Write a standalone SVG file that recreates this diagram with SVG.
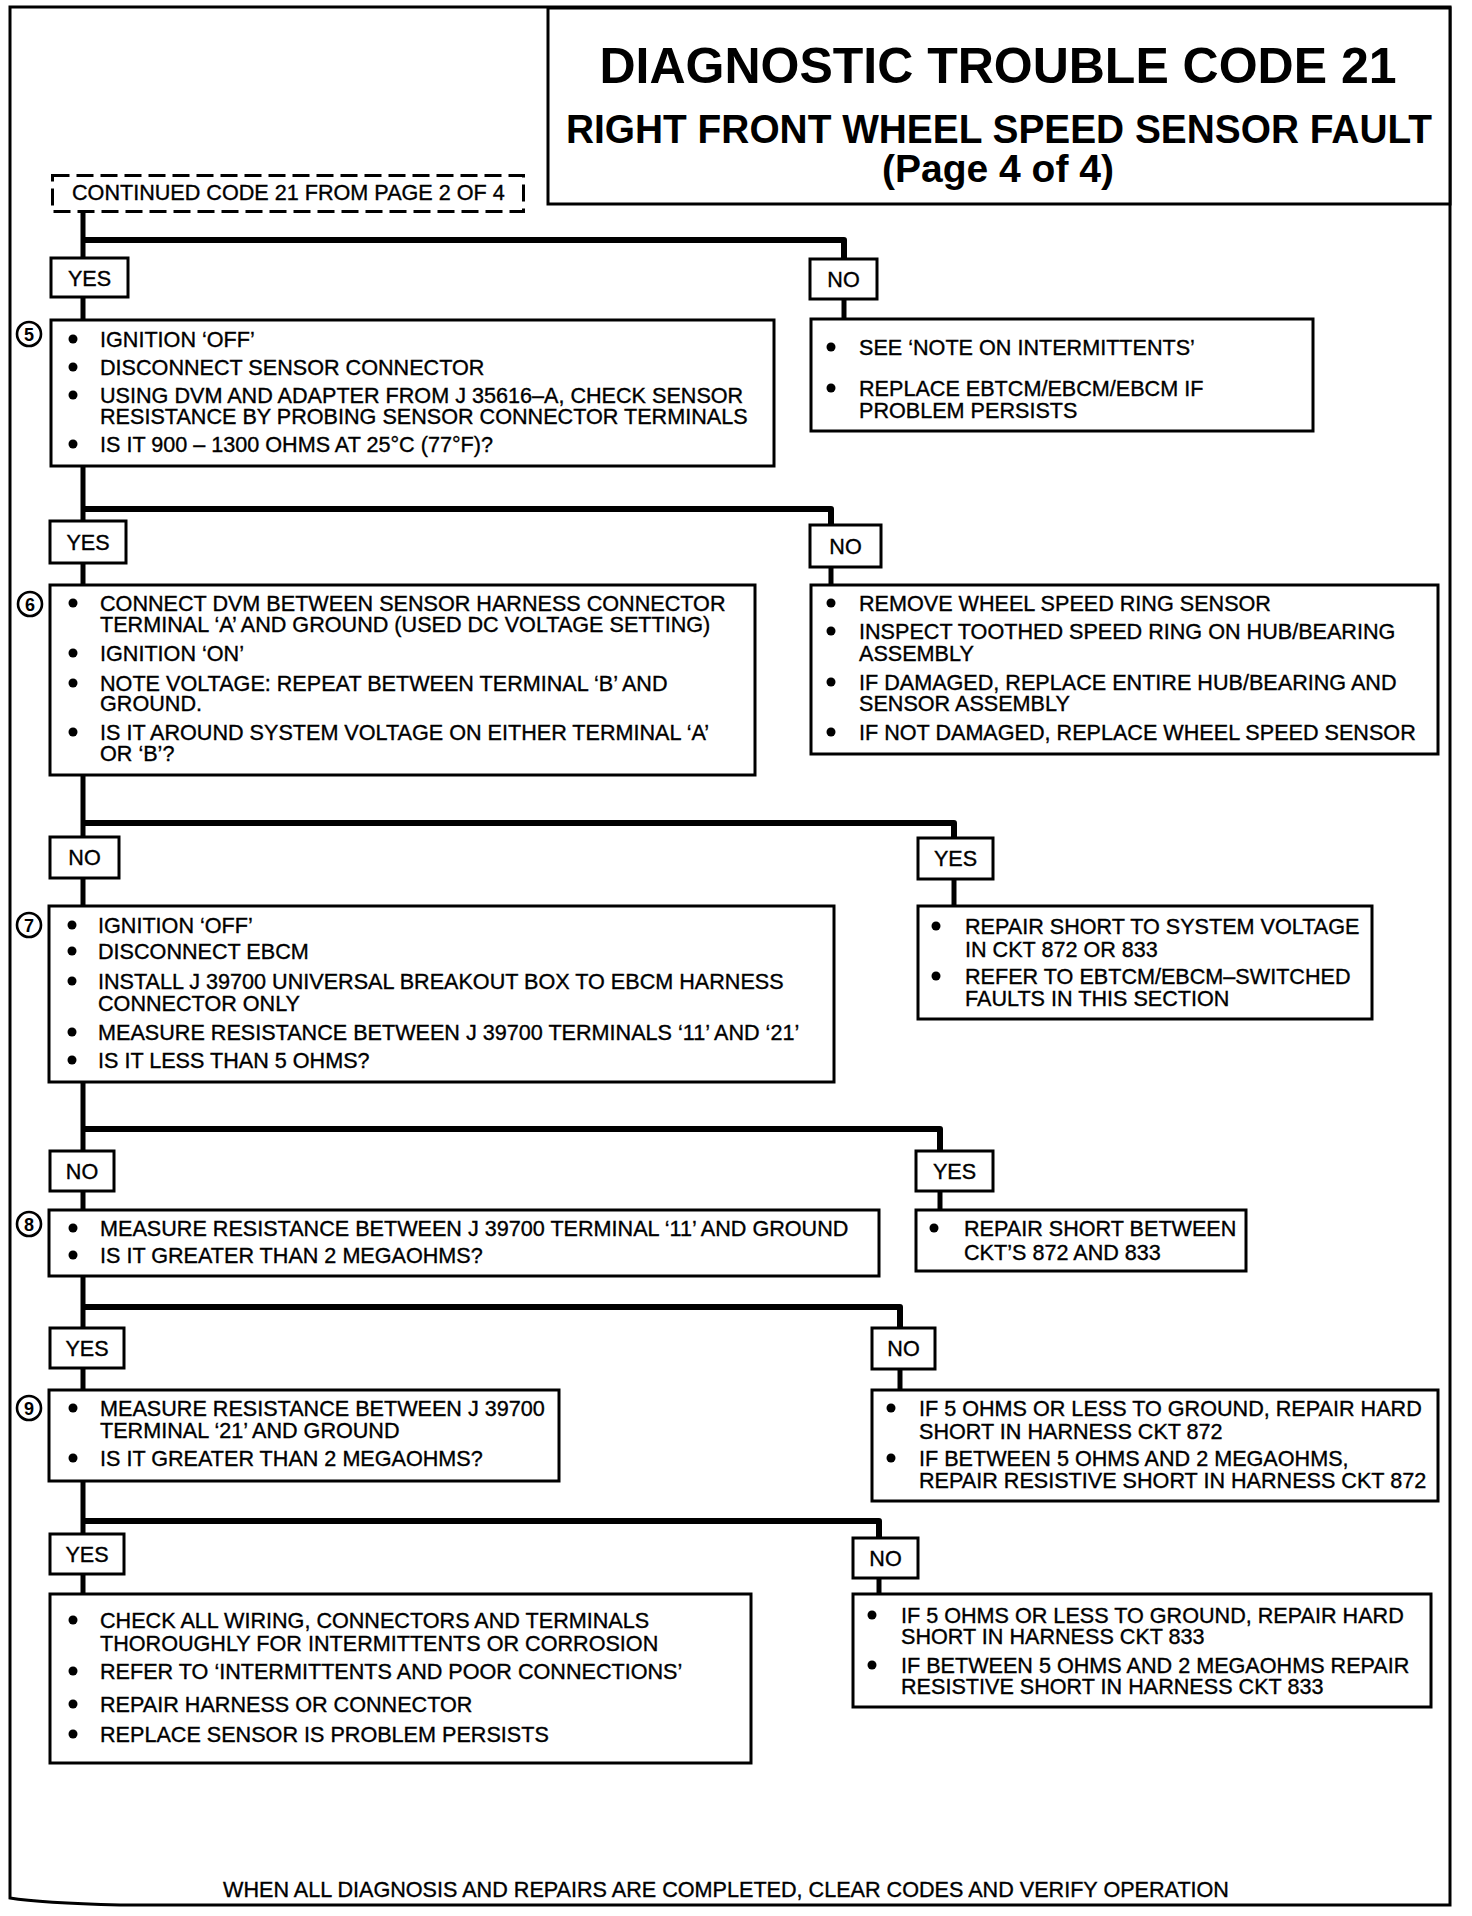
<svg xmlns="http://www.w3.org/2000/svg" width="1472" height="1916" viewBox="0 0 1472 1916">
<style>
.b{fill:#fff;stroke:#000;stroke-width:3}
.d{fill:#fff;stroke:#000;stroke-width:3;stroke-dasharray:17 7}
.t{font-family:"Liberation Sans",Arial,sans-serif;font-size:21.6px;fill:#000;stroke:#000;stroke-width:0.35}
.m{text-anchor:middle}
.h{font-family:"Liberation Sans",Arial,sans-serif;font-weight:bold;fill:#000;text-anchor:middle}
.n{font-family:"Liberation Sans",Arial,sans-serif;font-size:18px;font-weight:bold;fill:#000;text-anchor:middle}
.k{fill:#fff;stroke:#000;stroke-width:2.6}
.c{fill:none;stroke:#000;stroke-width:5}
.r{fill:none;stroke:#000;stroke-width:6;stroke-linejoin:round}
</style>
<defs>
<circle id="dot" r="4.5" fill="#000"/>
</defs>
<rect width="1472" height="1916" fill="#fff"/>
<path d="M10 7 H1450 V1905 H120 Q40 1903 10 1898 Z" fill="none" stroke="#000" stroke-width="3"/>

<g id="title">
<rect class="b" x="548" y="8" width="902" height="196"/>
<text class="h" x="998" y="83" font-size="50" textLength="797" lengthAdjust="spacingAndGlyphs">DIAGNOSTIC TROUBLE CODE 21</text>
<text class="h" x="999" y="143" font-size="40" textLength="866" lengthAdjust="spacingAndGlyphs">RIGHT FRONT WHEEL SPEED SENSOR FAULT</text>
<text class="h" x="998" y="182" font-size="39">(Page 4 of 4)</text>
</g>

<g id="connectors">
<path class="c" d="M83 211 V258 M83 297 V320 M83 466 V521 M83 563 V585 M83 775 V837 M83 878 V906 M83 1082 V1151 M83 1191 V1210 M83 1276 V1328 M83 1368 V1390 M83 1481 V1534 M83 1574 V1594"/>
<path class="r" d="M83 240 H844 V259"/>
<path class="c" d="M844 299 V319"/>
<path class="r" d="M83 509 H831 V525"/>
<path class="c" d="M831 567 V585"/>
<path class="r" d="M83 823 H954 V838"/>
<path class="c" d="M954 879 V906"/>
<path class="r" d="M83 1129 H940 V1151"/>
<path class="c" d="M940 1191 V1210"/>
<path class="r" d="M83 1307 H900 V1328"/>
<path class="c" d="M900 1369 V1390"/>
<path class="r" d="M83 1521 H879 V1538"/>
<path class="c" d="M879 1578 V1594"/>
</g>

<g id="start">
<rect class="d" x="52.5" y="175.5" width="471" height="36"/>
<text class="t" x="72" y="200">CONTINUED CODE 21 FROM PAGE 2 OF 4</text>
</g>

<g id="yes1"><rect class="b" x="51" y="258" width="77" height="39"/><text class="t m" x="89.5" y="286">YES</text></g>
<g id="no1"><rect class="b" x="810" y="259" width="67" height="40"/><text class="t m" x="843.5" y="287">NO</text></g>

<g id="step5">
<rect class="b" x="51" y="320" width="723" height="146"/>
<circle class="k" cx="29" cy="334" r="12"/><text class="n" x="29" y="340.5">5</text>
<use href="#dot" x="73" y="339"/><text class="t" x="100" y="347">IGNITION ‘OFF’</text>
<use href="#dot" x="73" y="367"/><text class="t" x="100" y="375">DISCONNECT SENSOR CONNECTOR</text>
<use href="#dot" x="73" y="395"/><text class="t" x="100" y="403">USING DVM AND ADAPTER FROM J  35616–A, CHECK SENSOR</text>
<text class="t" x="100" y="424">RESISTANCE BY PROBING SENSOR CONNECTOR TERMINALS</text>
<use href="#dot" x="73" y="444"/><text class="t" x="100" y="452">IS IT 900 – 1300 OHMS AT 25°C (77°F)?</text>
</g>

<g id="no1box">
<rect class="b" x="811" y="319" width="502" height="112"/>
<use href="#dot" x="831" y="347"/><text class="t" x="859" y="355">SEE ‘NOTE ON INTERMITTENTS’</text>
<use href="#dot" x="831" y="388"/><text class="t" x="859" y="396">REPLACE EBTCM/EBCM/EBCM IF</text>
<text class="t" x="859" y="418">PROBLEM PERSISTS</text>
</g>

<g id="yes2"><rect class="b" x="50" y="521" width="76" height="42"/><text class="t m" x="88" y="550">YES</text></g>
<g id="no2"><rect class="b" x="810" y="525" width="71" height="42"/><text class="t m" x="845.5" y="554">NO</text></g>

<g id="step6">
<rect class="b" x="50" y="585" width="705" height="190"/>
<circle class="k" cx="30" cy="604" r="12"/><text class="n" x="30" y="610.5">6</text>
<use href="#dot" x="73" y="603"/><text class="t" x="100" y="611">CONNECT DVM BETWEEN SENSOR HARNESS CONNECTOR</text>
<text class="t" x="100" y="632">TERMINAL ‘A’ AND GROUND (USED DC VOLTAGE SETTING)</text>
<use href="#dot" x="73" y="653"/><text class="t" x="100" y="661">IGNITION ‘ON’</text>
<use href="#dot" x="73" y="683"/><text class="t" x="100" y="691">NOTE VOLTAGE: REPEAT BETWEEN TERMINAL ‘B’ AND</text>
<text class="t" x="100" y="711">GROUND.</text>
<use href="#dot" x="73" y="732"/><text class="t" x="100" y="740">IS IT AROUND SYSTEM VOLTAGE ON EITHER TERMINAL ‘A’</text>
<text class="t" x="100" y="761">OR ‘B’?</text>
</g>

<g id="no2box">
<rect class="b" x="811" y="585" width="627" height="169"/>
<use href="#dot" x="831" y="603"/><text class="t" x="859" y="611">REMOVE WHEEL SPEED RING SENSOR</text>
<use href="#dot" x="831" y="631"/><text class="t" x="859" y="639">INSPECT TOOTHED SPEED RING ON HUB/BEARING</text>
<text class="t" x="859" y="661">ASSEMBLY</text>
<use href="#dot" x="831" y="682"/><text class="t" x="859" y="690">IF DAMAGED, REPLACE ENTIRE HUB/BEARING AND</text>
<text class="t" x="859" y="711">SENSOR ASSEMBLY</text>
<use href="#dot" x="831" y="732"/><text class="t" x="859" y="740">IF NOT DAMAGED, REPLACE WHEEL SPEED SENSOR</text>
</g>

<g id="no3"><rect class="b" x="50" y="837" width="69" height="41"/><text class="t m" x="84.5" y="865">NO</text></g>
<g id="yes3"><rect class="b" x="918" y="838" width="75" height="41"/><text class="t m" x="955.5" y="866">YES</text></g>

<g id="step7">
<rect class="b" x="49" y="906" width="785" height="176"/>
<circle class="k" cx="29" cy="925" r="12"/><text class="n" x="29" y="931.5">7</text>
<use href="#dot" x="72" y="925"/><text class="t" x="98" y="933">IGNITION ‘OFF’</text>
<use href="#dot" x="72" y="951"/><text class="t" x="98" y="959">DISCONNECT EBCM</text>
<use href="#dot" x="72" y="981"/><text class="t" x="98" y="989">INSTALL J 39700 UNIVERSAL BREAKOUT BOX TO EBCM HARNESS</text>
<text class="t" x="98" y="1011">CONNECTOR ONLY</text>
<use href="#dot" x="72" y="1032"/><text class="t" x="98" y="1040">MEASURE RESISTANCE BETWEEN J 39700 TERMINALS ‘11’ AND ‘21’</text>
<use href="#dot" x="72" y="1060"/><text class="t" x="98" y="1068">IS IT LESS THAN 5 OHMS?</text>
</g>

<g id="yes3box">
<rect class="b" x="918" y="906" width="454" height="113"/>
<use href="#dot" x="936" y="926"/><text class="t" x="965" y="934">REPAIR SHORT TO SYSTEM VOLTAGE</text>
<text class="t" x="965" y="957">IN CKT 872 OR 833</text>
<use href="#dot" x="936" y="976"/><text class="t" x="965" y="984">REFER TO EBTCM/EBCM–SWITCHED</text>
<text class="t" x="965" y="1006">FAULTS IN THIS SECTION</text>
</g>

<g id="no4"><rect class="b" x="50" y="1151" width="64" height="40"/><text class="t m" x="82" y="1179">NO</text></g>
<g id="yes4"><rect class="b" x="916" y="1151" width="77" height="40"/><text class="t m" x="954.5" y="1179">YES</text></g>

<g id="step8">
<rect class="b" x="49" y="1210" width="830" height="66"/>
<circle class="k" cx="29" cy="1224" r="12"/><text class="n" x="29" y="1230.5">8</text>
<use href="#dot" x="73" y="1228"/><text class="t" x="100" y="1236">MEASURE RESISTANCE BETWEEN J 39700 TERMINAL ‘11’ AND GROUND</text>
<use href="#dot" x="73" y="1255"/><text class="t" x="100" y="1263">IS IT GREATER THAN 2 MEGAOHMS?</text>
</g>

<g id="yes4box">
<rect class="b" x="916" y="1210" width="330" height="61"/>
<use href="#dot" x="934" y="1228"/><text class="t" x="964" y="1236">REPAIR SHORT BETWEEN</text>
<text class="t" x="964" y="1260">CKT’S 872 AND 833</text>
</g>

<g id="yes5"><rect class="b" x="50" y="1328" width="74" height="40"/><text class="t m" x="87" y="1356">YES</text></g>
<g id="no5"><rect class="b" x="872" y="1328" width="63" height="41"/><text class="t m" x="903.5" y="1356">NO</text></g>

<g id="step9">
<rect class="b" x="49" y="1390" width="510" height="91"/>
<circle class="k" cx="29" cy="1408" r="12"/><text class="n" x="29" y="1414.5">9</text>
<use href="#dot" x="73" y="1408"/><text class="t" x="100" y="1416">MEASURE RESISTANCE BETWEEN J 39700</text>
<text class="t" x="100" y="1438">TERMINAL ‘21’ AND GROUND</text>
<use href="#dot" x="73" y="1458"/><text class="t" x="100" y="1466">IS IT GREATER THAN 2 MEGAOHMS?</text>
</g>

<g id="no5box">
<rect class="b" x="872" y="1390" width="566" height="111"/>
<use href="#dot" x="891" y="1408"/><text class="t" x="919" y="1416">IF 5 OHMS OR LESS TO GROUND, REPAIR HARD</text>
<text class="t" x="919" y="1439">SHORT IN HARNESS CKT 872</text>
<use href="#dot" x="891" y="1458"/><text class="t" x="919" y="1466">IF BETWEEN 5 OHMS AND 2  MEGAOHMS,</text>
<text class="t" x="919" y="1488">REPAIR RESISTIVE SHORT IN HARNESS CKT 872</text>
</g>

<g id="yes6"><rect class="b" x="50" y="1534" width="74" height="40"/><text class="t m" x="87" y="1562">YES</text></g>
<g id="no6"><rect class="b" x="853" y="1538" width="65" height="40"/><text class="t m" x="885.5" y="1566">NO</text></g>

<g id="final-yes">
<rect class="b" x="50" y="1594" width="701" height="169"/>
<use href="#dot" x="73" y="1620"/><text class="t" x="100" y="1628">CHECK ALL WIRING, CONNECTORS AND TERMINALS</text>
<text class="t" x="100" y="1651">THOROUGHLY FOR INTERMITTENTS OR CORROSION</text>
<use href="#dot" x="73" y="1671"/><text class="t" x="100" y="1679">REFER TO ‘INTERMITTENTS AND POOR CONNECTIONS’</text>
<use href="#dot" x="73" y="1704"/><text class="t" x="100" y="1712">REPAIR HARNESS OR CONNECTOR</text>
<use href="#dot" x="73" y="1734"/><text class="t" x="100" y="1742">REPLACE SENSOR IS PROBLEM PERSISTS</text>
</g>

<g id="final-no">
<rect class="b" x="853" y="1594" width="578" height="113"/>
<use href="#dot" x="872" y="1615"/><text class="t" x="901" y="1623">IF 5 OHMS OR LESS TO GROUND, REPAIR HARD</text>
<text class="t" x="901" y="1644">SHORT IN HARNESS CKT 833</text>
<use href="#dot" x="872" y="1665"/><text class="t" x="901" y="1673">IF BETWEEN 5 OHMS AND 2 MEGAOHMS REPAIR</text>
<text class="t" x="901" y="1694">RESISTIVE SHORT IN HARNESS CKT  833</text>
</g>

<g id="footer">
<text class="t m" x="726" y="1897">WHEN ALL DIAGNOSIS AND REPAIRS ARE COMPLETED, CLEAR CODES AND VERIFY OPERATION</text>
</g>
</svg>
